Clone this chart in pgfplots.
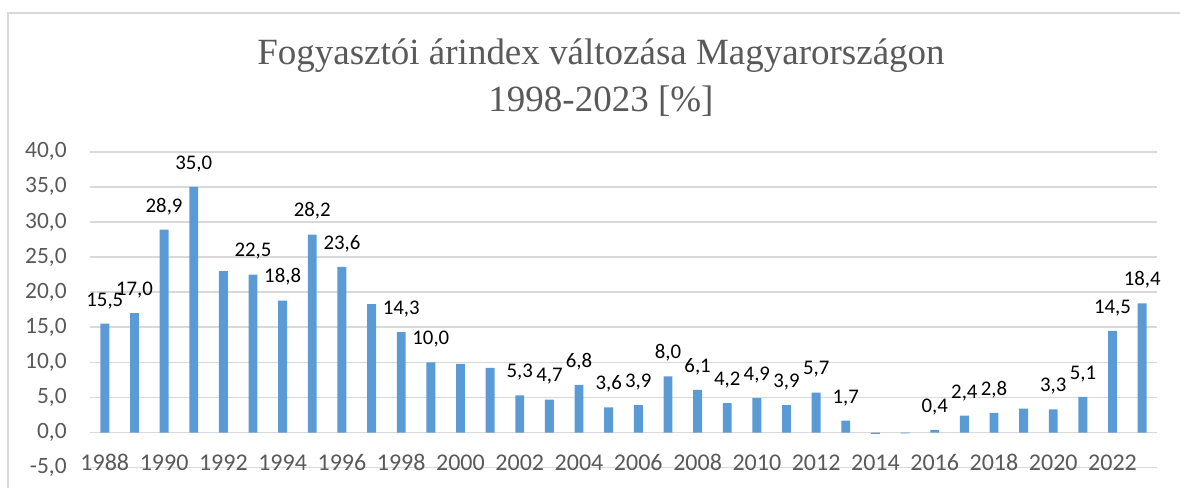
\documentclass[border=0pt]{standalone}
\usepackage{pgfplots}
\pgfplotsset{compat=1.18}
\usepackage{pgfplotstable}
\usepackage{fontspec}
\setmainfont{Carlito}
\newfontfamily\titlefont{Liberation Serif}
\definecolor{barblue}{HTML}{5B9BD5}
\definecolor{gridgray}{HTML}{D9D9D9}
\definecolor{txtgray}{HTML}{595959}

\pgfplotstableread{
x y
0 15.5
1 17.0
2 28.9
3 35.0
4 23.0
5 22.5
6 18.8
7 28.2
8 23.6
9 18.3
10 14.3
11 10.0
12 9.8
13 9.2
14 5.3
15 4.7
16 6.8
17 3.6
18 3.9
19 8.0
20 6.1
21 4.2
22 4.9
23 3.9
24 5.7
25 1.7
26 -0.2
27 -0.1
28 0.4
29 2.4
30 2.8
31 3.4
32 3.3
33 5.1
34 14.5
35 18.4
}\alldata

\pgfplotstableread{
x y
0 15.5
1 17.0
2 28.9
3 35.0
5 22.5
6 18.8
7 28.2
8 23.6
10 14.3
11 10.0
14 5.3
15 4.7
16 6.8
17 3.6
18 3.9
19 8.0
20 6.1
21 4.2
22 4.9
23 3.9
24 5.7
25 1.7
28 0.4
29 2.4
30 2.8
32 3.3
33 5.1
34 14.5
35 18.4
}\labeldata

\begin{document}
\begin{tikzpicture}[x=0.5pt,y=0.5pt]
\useasboundingbox (0,0) rectangle (1180,488);
\begin{scope}
\clip (0,0) rectangle (1180,488);
\draw[gridgray, line width=1pt] (8,-50) -- (8,475) -- (1250,475);
\end{scope}
\node[anchor=base, text=txtgray, font=\titlefont\fontsize{18.5}{22}\selectfont] at (601,423) {Fogyasztói árindex változása Magyarországon};
\node[anchor=base, text=txtgray, font=\titlefont\fontsize{18.5}{22}\selectfont] at (601,376) {1998-2023 [\%]};
\begin{axis}[
  at={(45pt,10.15pt)}, anchor=south west,
  scale only axis, width=533.5pt, height=158pt,
  xmin=-0.5, xmax=35.5, ymin=-5, ymax=40,
  axis line style={draw=none},
  ymajorgrids, grid style={gridgray, line width=0.8pt},
  ytick={-5,0,5,10,15,20,25,30,35,40},
  xtick={0,2,4,6,8,10,12,14,16,18,20,22,24,26,28,30,32,34},
  xticklabels={1988,1990,1992,1994,1996,1998,2000,2002,2004,2006,2008,2010,2012,2014,2016,2018,2020,2022},
  major tick length=0pt,
  xticklabel style={anchor=base, yshift=-1.6pt, text=txtgray, font=\fontsize{12}{14}\selectfont, inner sep=0pt},
  yticklabel style={anchor=east, xshift=-11.5pt, text=txtgray, font=\fontsize{11.7}{13}\selectfont, inner sep=0pt,
    /pgf/number format/.cd, fixed, fixed zerofill, precision=1, use comma, assume math mode=true},
  clip=false,
]
\addplot[ybar, bar width=0.3, bar shift=0pt, fill=barblue, draw=none] table[x=x,y=y]{\alldata};
\addplot[ybar, bar width=0.3, bar shift=0pt, fill=none, draw=none,
  nodes near coords={\pgfmathprintnumber[fixed, fixed zerofill, precision=1, use comma, assume math mode=true]{\pgfplotspointmeta}},
  every node near coord/.append style={anchor=base, yshift=8.8pt, inner sep=0pt, text=black, font=\fontsize{10.4}{12}\selectfont}
] table[x=x,y=y]{\labeldata};
\end{axis}
\end{tikzpicture}
\end{document}
